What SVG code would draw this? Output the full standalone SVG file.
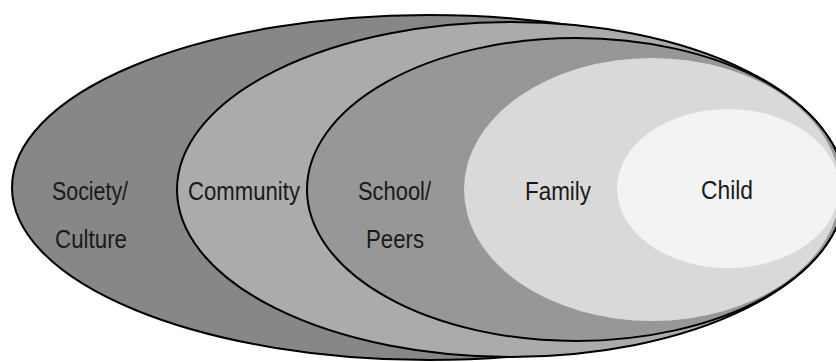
<svg xmlns="http://www.w3.org/2000/svg" width="836" height="362" viewBox="0 0 836 362">
  <style>
    .ring { stroke: #000; stroke-width: 2; }
    .core { stroke: none; }
    .lbl { font-family: "Liberation Sans", Arial, sans-serif; font-size: 25px; fill: #1a1a1a; text-anchor: middle; }
  </style>
  <rect x="0" y="0" width="836" height="362" fill="#ffffff"/>
  <g id="society">
    <ellipse class="ring" cx="429" cy="187.5" rx="417" ry="172.5" fill="#878787"/>
    <text class="lbl" x="90" y="200" textLength="76" lengthAdjust="spacingAndGlyphs">Society/</text>
    <text class="lbl" x="91" y="248" textLength="72" lengthAdjust="spacingAndGlyphs">Culture</text>
  </g>
  <g id="community">
    <ellipse class="ring" cx="511" cy="189.5" rx="334" ry="167.5" fill="#ababab"/>
    <text class="lbl" x="244" y="200" textLength="112" lengthAdjust="spacingAndGlyphs">Community</text>
  </g>
  <g id="school">
    <ellipse class="ring" cx="576" cy="189.5" rx="269" ry="151.5" fill="#979797"/>
    <text class="lbl" x="394.5" y="200" textLength="73" lengthAdjust="spacingAndGlyphs">School/</text>
    <text class="lbl" x="395" y="248" textLength="58" lengthAdjust="spacingAndGlyphs">Peers</text>
  </g>
  <g id="family">
    <ellipse class="core" cx="652" cy="189.5" rx="188" ry="131.5" fill="#d9d9d9"/>
    <text class="lbl" x="558" y="200" textLength="66" lengthAdjust="spacingAndGlyphs">Family</text>
  </g>
  <g id="child">
    <ellipse class="core" cx="728" cy="188.5" rx="111" ry="79.5" fill="#f3f3f3"/>
    <text class="lbl" x="727" y="199" textLength="52" lengthAdjust="spacingAndGlyphs">Child</text>
  </g>
</svg>
